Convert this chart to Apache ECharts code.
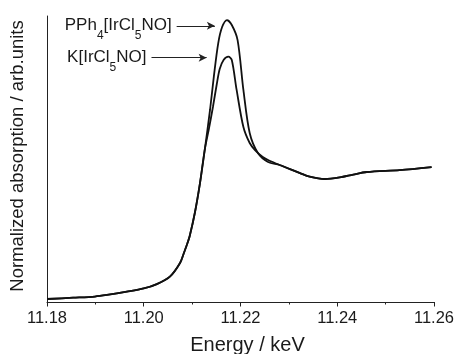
<!DOCTYPE html>
<html>
<head>
<meta charset="utf-8">
<script src="https://cdn.jsdelivr.net/npm/echarts@6/dist/echarts.min.js"></script>
<style>html,body{margin:0;padding:0;background:#fff;}#c{width:459px;height:354px;}</style>
</head>
<body>
<div id="c"></div>
<script>
// Energy (keV) and normalized absorption for PPh4[IrCl5NO]
var energyPPh = [11.1800, 11.1854, 11.1899, 11.1924, 11.1965, 11.2000, 11.2027, 11.2054, 11.2075, 11.2083, 11.2089, 11.2095, 11.2106, 11.2116, 11.2126, 11.2137, 11.2145, 11.2154, 11.2162, 11.2172, 11.2182, 11.2194, 11.2206, 11.2219, 11.2236, 11.2257, 11.2281, 11.2323, 11.2343, 11.2374, 11.2405, 11.2433, 11.2461, 11.2529, 11.2595];
var absPPh    = [0.023, 0.033, 0.042, 0.054, 0.079, 0.104, 0.138, 0.195, 0.300, 0.377, 0.438, 0.508, 0.692, 0.908, 1.169, 1.477, 1.738, 1.992, 2.115, 2.169, 2.131, 2.015, 1.631, 1.300, 1.146, 1.077, 1.054, 0.992, 0.964, 0.946, 0.958, 0.980, 1.000, 1.015, 1.038];
// Energy (keV) and normalized absorption for K[IrCl5NO]
var energyK = [11.1800, 11.1854, 11.1899, 11.1924, 11.1965, 11.2000, 11.2027, 11.2054, 11.2075, 11.2083, 11.2089, 11.2095, 11.2106, 11.2116, 11.2126, 11.2135, 11.2143, 11.2151, 11.2157, 11.2165, 11.2175, 11.2182, 11.2192, 11.2206, 11.2219, 11.2230, 11.2246, 11.2257, 11.2281, 11.2323, 11.2343, 11.2374, 11.2405, 11.2433, 11.2461, 11.2529, 11.2595];
var absK    = [0.023, 0.033, 0.042, 0.054, 0.079, 0.104, 0.138, 0.195, 0.300, 0.377, 0.438, 0.508, 0.692, 0.908, 1.169, 1.338, 1.500, 1.677, 1.792, 1.862, 1.887, 1.862, 1.631, 1.346, 1.223, 1.169, 1.115, 1.092, 1.054, 0.992, 0.964, 0.946, 0.958, 0.980, 1.000, 1.015, 1.038];
var xTicks = ['11.18', '11.20', '11.22', '11.24', '11.26'];

function pairs(xs, ys) { return xs.map(function (x, i) { return [x, ys[i]]; }); }

var txt = '#1a1a1a';
var font = 'Liberation Sans, Arial, sans-serif';
var rich = {
  n: { fontSize: 17, fontFamily: font, color: txt, lineHeight: 20 },
  s: { fontSize: 12, fontFamily: font, color: txt, lineHeight: 12, padding: [20, 0, 0, 0] }
};

var chart = echarts.init(document.getElementById('c'), null, { renderer: 'canvas' });
chart.setOption({
  animation: false,
  backgroundColor: '#fff',
  grid: { left: 47, right: 25, top: 16, bottom: 52, containLabel: false, outerBoundsMode: 'none' },
  xAxis: {
    type: 'value', min: 11.18, max: 11.26, interval: 0.02,
    name: 'Energy / keV', nameLocation: 'middle', nameGap: 33,
    nameTextStyle: { fontSize: 20, fontFamily: font, color: txt, padding: [0, 0, 0, 14] },
    axisLine: { lineStyle: { color: '#222', width: 1 } },
    axisTick: { show: true, inside: false, length: 4.5, lineStyle: { color: '#222' } },
    minorTick: { show: true, splitNumber: 2, length: 2.5, lineStyle: { color: '#222' } },
    splitLine: { show: false },
    axisLabel: { fontSize: 16.5, fontFamily: font, color: txt, margin: 8,
      formatter: function (v) { return xTicks[Math.round((v - 11.18) / 0.02)]; } }
  },
  yAxis: {
    type: 'value', min: 0, max: 2.2,
    name: 'Normalized absorption / arb.units', nameLocation: 'middle', nameGap: 20,
    nameTextStyle: { fontSize: 18.5, fontFamily: font, color: txt, padding: [0, 0, 0, 6] },
    axisLine: { show: true, lineStyle: { color: '#222', width: 1 } },
    axisTick: { show: false }, axisLabel: { show: false }, splitLine: { show: false }
  },
  series: [
    {
      type: 'line', name: 'PPh4[IrCl5NO]', data: pairs(energyPPh, absPPh),
      smooth: 0.3, showSymbol: false, lineStyle: { color: '#111', width: 1.8 },
      markLine: {
        silent: true, symbol: ['none', 'arrow'], symbolSize: [6, 8],
        lineStyle: { color: '#222', width: 1, type: 'solid' },
        label: { show: true, position: 'start', distance: 5, formatter: '{n|PPh}{s|4}{n|[IrCl}{s|5}{n|NO]}', rich: rich },
        data: [[{ coord: [11.2068, 2.125] }, { coord: [11.2147, 2.125] }]]
      }
    },
    {
      type: 'line', name: 'K[IrCl5NO]', data: pairs(energyK, absK),
      smooth: 0.3, showSymbol: false, lineStyle: { color: '#111', width: 1.8 },
      markLine: {
        silent: true, symbol: ['none', 'arrow'], symbolSize: [6, 8],
        lineStyle: { color: '#222', width: 1, type: 'solid' },
        label: { show: true, position: 'start', distance: 5, formatter: '{n|K[IrCl}{s|5}{n|NO]}', rich: rich },
        data: [[{ coord: [11.2016, 1.879] }, { coord: [11.2130, 1.879] }]]
      }
    }
  ]
});
</script>
</body>
</html>
